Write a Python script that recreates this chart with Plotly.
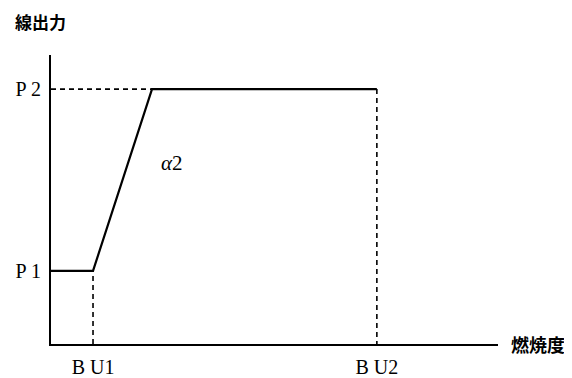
import plotly.graph_objects as go

# Schematic values (arbitrary units, axes 0..100)
BU1 = 9.4
BU_RISE_END = 22.6
BU2 = 72.9
P1 = 25.3
P2 = 88.2

line_x = [0, BU1, BU_RISE_END, BU2]
line_y = [P1, P1, P2, P2]

x_tick_vals = [BU1, BU2]
x_tick_text = ["B U1", "B U2"]
y_tick_vals = [P1, P2]
y_tick_text = ["P 1", "P 2"]

fig = go.Figure()

# dashed guides
fig.add_trace(go.Scatter(x=[BU1, BU1], y=[0, P1], mode="lines",
                         line=dict(color="black", width=1.6, dash="5px,4px"), hoverinfo="skip"))
fig.add_trace(go.Scatter(x=[0, BU_RISE_END], y=[P2, P2], mode="lines",
                         line=dict(color="black", width=1.6, dash="5px,4px"), hoverinfo="skip"))
fig.add_trace(go.Scatter(x=[BU2, BU2], y=[P2, 0], mode="lines",
                         line=dict(color="black", width=1.6, dash="5px,4px"), hoverinfo="skip"))
# main solid line
fig.add_trace(go.Scatter(x=line_x, y=line_y, mode="lines",
                         line=dict(color="black", width=2.2), hoverinfo="skip"))

fig.add_annotation(x=27.1, y=62.6, text="<i>α</i>2", showarrow=False,
                   font=dict(family="Liberation Serif", size=21, color="black"))
fig.add_annotation(xref="paper", yref="paper", x=-0.085, y=1.115, xanchor="left", yanchor="middle",
                   text="<b>線出力</b>", showarrow=False,
                   font=dict(family="Noto Sans CJK JP", size=17, color="black"))
fig.add_annotation(xref="paper", yref="y", x=1.025, y=0, xanchor="left", yanchor="middle",
                   text="<b>燃焼度</b>", showarrow=False,
                   font=dict(family="Noto Sans CJK JP", size=18, color="black"))

fig.update_layout(
    width=564, height=370,
    margin=dict(l=43, r=74, t=47, b=34),
    paper_bgcolor="white", plot_bgcolor="white",
    showlegend=False,
    xaxis=dict(range=[0, 100], showgrid=False, zeroline=False, showline=True, automargin=False,
               linecolor="black", linewidth=2, tickvals=x_tick_vals, ticktext=x_tick_text,
               ticks="outside", ticklen=4, tickcolor="white",
               tickfont=dict(family="Liberation Serif", size=20, color="black")),
    yaxis=dict(range=[0, 100], showgrid=False, zeroline=False, showline=True, automargin=False,
               linecolor="black", linewidth=2, tickvals=y_tick_vals, ticktext=y_tick_text,
               ticks="outside", ticklen=4, tickcolor="white",
               tickfont=dict(family="Liberation Serif", size=20, color="black")),
)

fig.write_html("out.html")
